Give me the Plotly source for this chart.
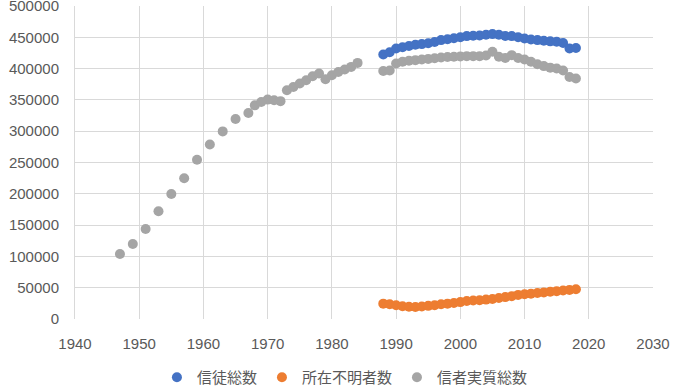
import plotly.graph_objects as go

# Early series (信者実質総数 only), 1947-1984
early_years = [1947, 1949, 1951, 1953, 1955, 1957, 1959, 1961, 1963, 1965, 1967,
               1968, 1969, 1970, 1971, 1972, 1973, 1974, 1975, 1976, 1977, 1978,
               1979, 1980, 1981, 1982, 1983, 1984]
early_real = [103700, 119700, 143700, 172000, 199800, 224900, 254300, 278800, 299700,
              319400, 329000, 341300, 346600, 350500, 349400, 348000, 365400, 370700,
              376100, 381400, 387800, 392100, 383000, 389400, 394700, 398600, 402700,
              409100]

# Later series, 1988-2018
late_years = list(range(1988, 2019))
total = [422600, 426000, 432200, 434000, 436000, 438000, 439100, 440500, 442500, 445500,
         447000, 448500, 450000, 451900, 452500, 453000, 454000, 455100, 454000, 452000,
         451900, 450000, 448000, 446600, 445500, 444500, 443500, 442800, 441000, 432200,
         433000]
missing = [24500, 23500, 22000, 20500, 19500, 19200, 20000, 21000, 22000, 23500,
           24500, 25500, 27000, 28800, 29500, 30000, 31000, 32000, 33500, 35000,
           36500, 38500, 39500, 40500, 41500, 42500, 43500, 44500, 45500, 46500,
           47600]
real_late = [396300, 397000, 408200, 411000, 412500, 413500, 414500, 415500, 416500,
             417800, 418500, 419000, 419500, 419900, 419900, 419900, 421000, 426800,
             418800, 417000, 421500, 417000, 414600, 411000, 407000, 404000, 401500,
             400200, 397000, 386700, 384100]

y_ticks = [0, 50000, 100000, 150000, 200000, 250000, 300000, 350000, 400000, 450000, 500000]
x_ticks = [1940, 1950, 1960, 1970, 1980, 1990, 2000, 2010, 2020, 2030]

names = ["信徒総数", "所在不明者数", "信者実質総数"]
colors = ["#4472C4", "#ED7D31", "#A5A5A5"]

fig = go.Figure()
fig.add_trace(go.Scatter(x=late_years, y=total, mode="markers", name=names[0],
                         marker=dict(color=colors[0], size=10)))
fig.add_trace(go.Scatter(x=late_years, y=missing, mode="markers", name=names[1],
                         marker=dict(color=colors[1], size=10)))
fig.add_trace(go.Scatter(x=early_years + late_years, y=early_real + real_late,
                         mode="markers", name=names[2],
                         marker=dict(color=colors[2], size=10)))

fig.update_layout(
    width=690, height=388,
    margin=dict(l=75, r=37, t=6, b=69, autoexpand=False),
    paper_bgcolor="white", plot_bgcolor="white",
    font=dict(family="Liberation Sans, Noto Sans CJK JP", size=15, color="#595959"),
    showlegend=True,
    legend=dict(orientation="h", x=0.467, xanchor="center", y=-0.187, yanchor="middle",
                font=dict(family="Noto Sans CJK JP", size=15, color="#595959"),
                itemwidth=30),
    xaxis=dict(range=[1940, 2030], tickmode="array", tickvals=x_ticks,
               ticktext=[str(v) for v in x_ticks], showgrid=True,
               gridcolor="#d9d9d9", gridwidth=1, zeroline=False, automargin=False,
               showline=False, ticks="", ticklabelstandoff=14,
               ticklabeloverflow="allow"),
    yaxis=dict(range=[0, 500000], tickmode="array", tickvals=y_ticks,
               ticktext=[str(v) for v in y_ticks], showgrid=True, gridcolor="#d9d9d9",
               gridwidth=1, zeroline=False, showline=True, linecolor="#d9d9d9",
               automargin=False, ticks="", ticklabelstandoff=12,
               ticklabeloverflow="allow"),
)

fig.write_html("out.html", config={"displayModeBar": False},
               post_script="document.body.style.margin='0';document.body.style.overflow='hidden';")
